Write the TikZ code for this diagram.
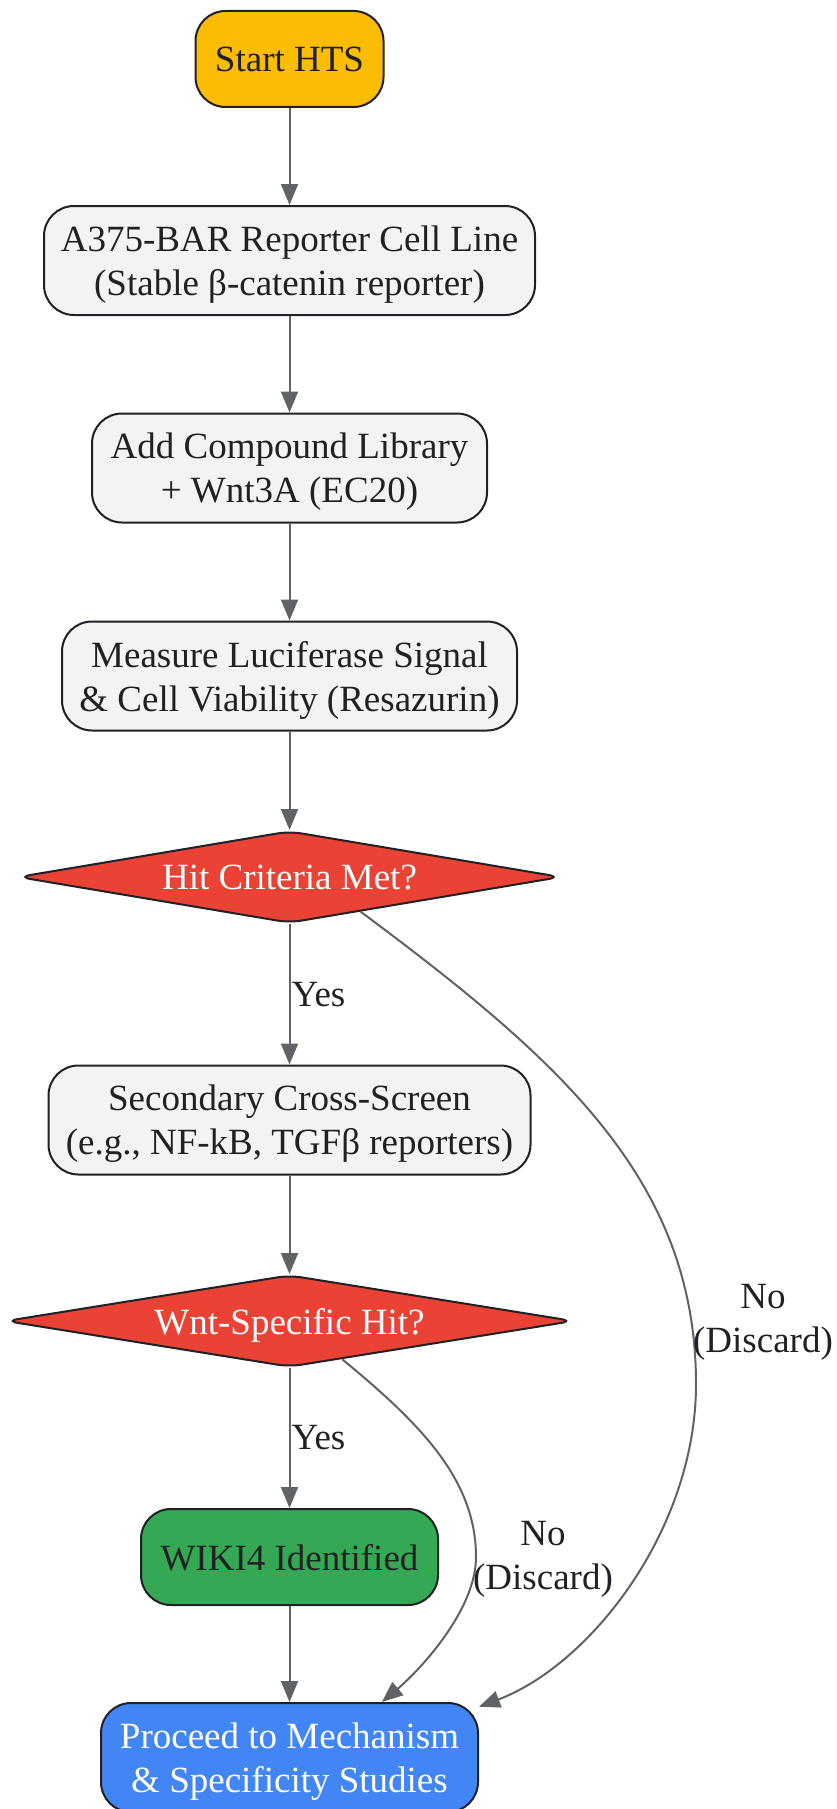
\documentclass[tikz,border=0pt]{standalone}
\usepackage{fontspec}
\setmainfont{Liberation Serif}
\usetikzlibrary{arrows.meta}
\usetikzlibrary{shapes.geometric}
\definecolor{startyellow}{HTML}{FBBC04}
\definecolor{boxgray}{HTML}{F1F3F4}
\definecolor{hitred}{HTML}{EA4335}
\definecolor{foundgreen}{HTML}{34A853}
\definecolor{nextblue}{HTML}{4285F4}
\definecolor{inkdark}{HTML}{202124}
\definecolor{linegray}{HTML}{5F6368}

\begin{document}
\begin{tikzpicture}[x=1pt, y=-1pt,
    box/.style={draw=inkdark, line width=2pt, rounded corners=30pt, fill=boxgray,
      text=inkdark, align=center, inner xsep=6pt, inner ysep=6pt, text depth=0pt,
      font=\fontsize{37}{44}\selectfont},
    decision/.style={diamond, aspect=6, draw=inkdark, line width=2pt, fill=hitred,
      text=white, inner sep=0pt, rounded corners=12pt, minimum height=92pt,
      text depth=0pt, font=\fontsize{37}{44}\selectfont},
    flow/.style={draw=linegray, line width=2pt, -{Triangle[length=21pt,width=17pt]}},
    lbl/.style={text=inkdark, align=center, inner sep=1pt,
      font=\fontsize{37}{44}\selectfont}]
  \useasboundingbox (0,0) rectangle (836,1809);

  % screening steps
  \node[box, fill=startyellow, minimum width=188pt, minimum height=96pt] (start) at (289.5,59) {Start HTS};
  \node[box, minimum width=491pt, minimum height=109pt] (cellline) at (289.5,260.5) {A375-BAR Reporter Cell Line\\(Stable β-catenin reporter)};
  \node[box, minimum width=395pt, minimum height=109pt] (library) at (289.5,468) {Add Compound Library\\+ Wnt3A (EC20)};
  \node[box, minimum width=455pt, minimum height=109pt] (measure) at (289.5,676) {Measure Luciferase Signal\\\& Cell Viability (Resazurin)};
  \node[decision, minimum width=543pt] (hit) at (289.5,877) {Hit Criteria Met?};
  \node[box, minimum width=482pt, minimum height=109pt] (cross) at (289.5,1120) {Secondary Cross-Screen\\(e.g., NF-kB, TGFβ reporters)};
  \node[decision, minimum width=568pt] (specific) at (289.5,1321) {Wnt-Specific Hit?};
  \node[box, fill=foundgreen, minimum width=297pt, minimum height=96pt] (wiki) at (289.5,1557) {WIKI4 Identified};
  \node[box, fill=nextblue, text=white, minimum width=377pt, minimum height=109pt] (proceed) at (289.5,1757.5) {Proceed to Mechanism\\\& Specificity Studies};

  % main line
  \draw[flow] (start) -- (cellline);
  \draw[flow] (cellline) -- (library);
  \draw[flow] (library) -- (measure);
  \draw[flow] (measure) -- (hit);
  \draw[flow] (hit) -- node[lbl, anchor=west] (yesone) {Yes} (cross);
  \draw[flow] (cross) -- (specific);
  \draw[flow] (specific) -- node[lbl, anchor=west] (yestwo) {Yes} (wiki);
  \draw[flow] (wiki) -- (proceed);

  % discarded compounds
  \draw[flow] (hit.-26) .. controls (560,1060) and (696,1180) .. (696,1384)
    .. controls (696,1530) and (590,1665) .. (proceed.15);
  \node[lbl] (nolong) at (763,1322) {No\\(Discard)};
  \draw[flow] (specific.-36) .. controls (421,1424) and (476,1480) .. (476,1557)
    .. controls (476,1610) and (420,1670) .. (proceed.31);
  \node[lbl] (noshort) at (543,1559) {No\\(Discard)};
\end{tikzpicture}
\end{document}
